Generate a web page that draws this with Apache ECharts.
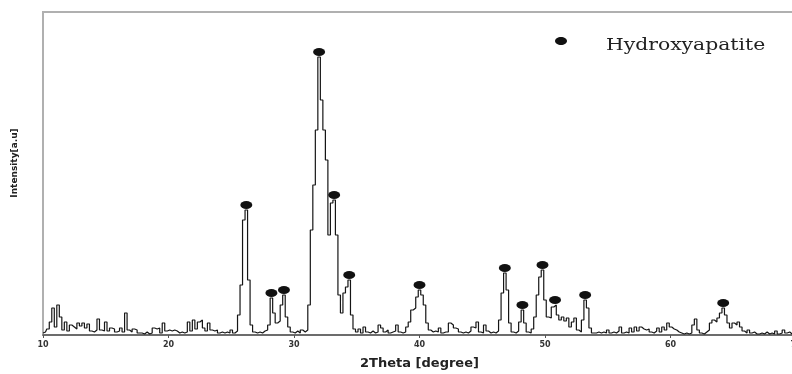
<!DOCTYPE html>
<html>
<head>
<meta charset="utf-8">
<script src="https://cdn.jsdelivr.net/npm/echarts@6/dist/echarts.min.js"></script>
<style>
  html, body { margin: 0; padding: 0; background: #fff; }
  #chart { width: 792px; height: 374px; }
</style>
</head>
<body>
<div id="chart"></div>
<script>
// XRD scan: 2θ from 10° to 70° in 0.2° steps, intensity in arbitrary units
const thetaStart = 10;
const thetaStep = 0.2;

const intensity10to20 = [
  2, 3, 6, 13, 27, 8, 30, 18, 5, 13,
  4, 10, 8, 6, 12, 9, 12, 7, 11, 4,
  3, 5, 16, 5, 4, 13, 4, 7, 6, 3,
  4, 7, 3, 22, 5, 3, 6, 5, 2, 2,
  1, 3, 1, 2, 7, 6, 7, 2, 12, 4
];
const intensity20to30 = [
  5, 4, 5, 4, 2, 3, 2, 3, 13, 4,
  15, 6, 13, 15, 7, 4, 12, 5, 4, 5,
  2, 3, 2, 3, 2, 5, 2, 4, 20, 50,
  115, 125, 55, 10, 3, 2, 3, 2, 4, 5,
  10, 37, 22, 12, 14, 30, 40, 18, 8, 3
];
const intensity30to40 = [
  2, 4, 2, 5, 3, 5, 30, 105, 150, 205,
  278, 235, 205, 175, 100, 132, 135, 100, 40, 22,
  42, 48, 55, 20, 6, 3, 6, 2, 8, 3,
  2, 4, 2, 3, 10, 7, 3, 5, 2, 3,
  4, 10, 3, 2, 3, 8, 13, 25, 27, 38
];
const intensity40to50 = [
  45, 40, 30, 12, 5, 3, 4, 3, 7, 2,
  3, 3, 12, 10, 7, 6, 3, 2, 3, 2,
  4, 8, 7, 13, 3, 2, 10, 4, 2, 3,
  2, 4, 15, 42, 62, 45, 12, 3, 2, 4,
  13, 25, 12, 3, 2, 6, 18, 40, 58, 65
];
const intensity50to60 = [
  35, 18, 17, 28, 30, 20, 15, 18, 14, 17,
  8, 13, 17, 5, 3, 15, 35, 27, 7, 2,
  2, 3, 2, 3, 2, 5, 2, 3, 2, 4,
  8, 2, 3, 2, 7, 3, 8, 4, 8, 6,
  5, 6, 3, 2, 4, 7, 3, 8, 5, 12
];
const intensity60to70 = [
  8, 6, 5, 3, 2, 1, 2, 1, 2, 10,
  16, 5, 2, 1, 3, 5, 12, 15, 13, 17,
  22, 27, 20, 12, 7, 12, 10, 13, 8, 4,
  2, 5, 2, 3, 1, 1, 2, 1, 3, 1,
  2, 1, 4, 1, 2, 5, 2, 3, 1, 1,
  1
];

// 2θ positions of the reflections assigned to hydroxyapatite
const hydroxyapatitePeaks = [26.2, 28.2, 29.2, 32.0, 33.2, 34.4, 40.0, 46.8, 48.2, 49.8, 50.8, 53.2, 64.2];

const xTicks = [10, 20, 30, 40, 50, 60, 70];
const phaseName = 'Hydroxyapatite';

const intensity = [].concat(
  intensity10to20, intensity20to30, intensity30to40,
  intensity40to50, intensity50to60, intensity60to70
);
const pattern = intensity.map((v, i) => [+(thetaStart + i * thetaStep).toFixed(1), v]);
const peakPoints = hydroxyapatitePeaks.map(t => [t, intensity[Math.round((t - thetaStart) / thetaStep)]]);

const ellipse = 'path://M0 5A5 5 0 1 1 10 5A5 5 0 1 1 0 5Z';

const chart = echarts.init(document.getElementById('chart'), null, { renderer: 'canvas' });
chart.setOption({
  animation: false,
  backgroundColor: '#fff',
  grid: {
    left: 43, right: -4, top: 12, bottom: 39,
    outerBoundsMode: 'none',
    containLabel: false,
    show: true, borderColor: '#b0b0b0', borderWidth: 2
  },
  xAxis: {
    type: 'value',
    min: xTicks[0], max: xTicks[xTicks.length - 1], interval: 10,
    axisLine: { lineStyle: { color: '#555', width: 1.5 } },
    axisTick: { length: 3, lineStyle: { color: '#555' } },
    axisLabel: { fontFamily: 'DejaVu Sans', fontWeight: 'bold', fontSize: 8, color: '#333', margin: 6 },
    splitLine: { show: false },
    name: '2Theta [degree]',
    nameLocation: 'middle',
    nameGap: 22,
    nameTextStyle: { fontFamily: 'DejaVu Sans', fontWeight: 'bold', fontSize: 13, color: '#222' }
  },
  yAxis: {
    type: 'value', min: 0, max: 323,
    axisLine: { show: false }, axisTick: { show: false },
    axisLabel: { show: false }, splitLine: { show: false }
  },
  graphic: [
    {
      // vertical axis title
      type: 'text',
      x: 15, y: 163,
      rotation: Math.PI / 2,
      style: {
        text: 'Intensity[a.u]',
        font: 'bold 9px "DejaVu Sans"',
        fill: '#222',
        align: 'center',
        verticalAlign: 'middle'
      }
    },
    {
      // phase key: marker + name
      type: 'group',
      x: 555, y: 37,
      children: [
        { type: 'ellipse', shape: { cx: 6, cy: 4, rx: 6, ry: 4 }, style: { fill: '#111' } },
        {
          type: 'text', x: 51, y: 9, scaleX: 1.27,
          style: {
            text: phaseName,
            font: '16px "DejaVu Serif"',
            fill: '#222',
            align: 'left',
            verticalAlign: 'middle'
          }
        }
      ]
    }
  ],
  series: [
    {
      type: 'line',
      data: pattern,
      step: 'middle',
      showSymbol: false,
      silent: true,
      lineStyle: { color: '#151515', width: 1.2 }
    },
    {
      type: 'scatter',
      name: phaseName,
      data: peakPoints,
      symbol: ellipse,
      symbolSize: [12, 8],
      symbolOffset: [0, -5],
      itemStyle: { color: '#111', opacity: 1 },
      z: 3
    }
  ]
});
</script>
</body>
</html>
